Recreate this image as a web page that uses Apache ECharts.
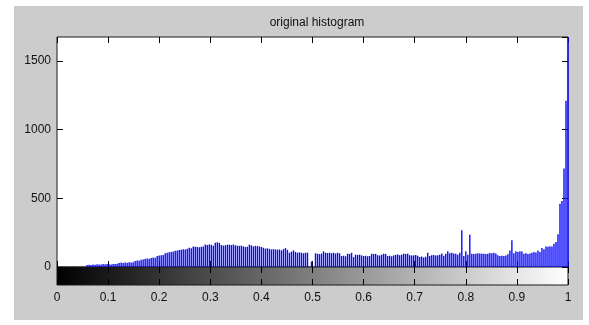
<!DOCTYPE html>
<html>
<head>
<meta charset="utf-8">
<script src="https://cdn.jsdelivr.net/npm/echarts@6/dist/echarts.min.js"></script>
<style>
  html, body { margin: 0; padding: 0; background: #fff; }
  #chart { width: 589px; height: 325px; }
</style>
</head>
<body>
<div id="chart"></div>
<script>
// imhist-style histogram: 256 gray-level bins, counts
const title = "original histogram";
const counts = [
  0, 0, 0, 0, 0, 0, 0, 0, 0, 0, 0, 0, 0, 0, 0, 14,
  16, 15, 18, 17, 20, 19, 18, 22, 20, 21, 20, 19, 22, 21, 24, 30,
  32, 30, 33, 31, 34, 32, 35, 44, 48, 46, 52, 54, 58, 61, 60, 66,
  70, 68, 80, 84, 86, 88, 100, 104, 108, 110, 112, 118, 121, 124, 126, 130,
  128, 132, 140, 136, 150, 148, 146, 144, 148, 150, 163, 160, 164, 162, 155, 177,
  180, 176, 160, 156, 158, 162, 163, 160, 164, 158, 155, 154, 156, 150, 146, 148,
  163, 158, 150, 154, 152, 150, 146, 140, 134, 136, 132, 128, 130, 128, 126, 128,
  121, 130, 138, 125, 104, 112, 121, 110, 104, 106, 104, 100, 104, 104, 0, 40,
  0, 100, 97, 95, 98, 114, 104, 102, 104, 100, 104, 98, 104, 100, 80, 82,
  78, 97, 95, 104, 73, 90, 88, 90, 85, 80, 82, 78, 80, 97, 95, 96,
  86, 84, 90, 97, 95, 80, 82, 78, 85, 88, 92, 86, 90, 97, 95, 97,
  86, 84, 85, 88, 82, 73, 76, 70, 74, 104, 80, 85, 88, 84, 86, 90,
  98, 82, 97, 114, 100, 104, 98, 97, 90, 104, 267, 80, 114, 90, 235, 97,
  95, 97, 100, 98, 96, 97, 95, 97, 102, 100, 104, 98, 86, 80, 82, 80,
  84, 92, 121, 194, 100, 114, 110, 115, 112, 97, 100, 95, 98, 104, 109, 105,
  121, 110, 138, 130, 150, 148, 152, 150, 170, 182, 238, 461, 481, 717, 1210, 1675
];
const yMax = 1675;
const yTicks = [0, 500, 1000, 1500];
const xTicks = [0, 0.1, 0.2, 0.3, 0.4, 0.5, 0.6, 0.7, 0.8, 0.9, 1];

// bin centres sit at k/255 on the 0..1 intensity axis
const barData = counts.map((c, k) => [k / (counts.length - 1), c]);

const chart = echarts.init(document.getElementById("chart"), null, { renderer: "canvas" });
const axisColor = "#1a1a1a";
const font = "Liberation Sans, Arial, sans-serif";
// axes start a hair above 0 so the top/right axes don't snap "onZero" to the wrong side
const EPS = 1e-9;
const noLine = () => ({ show: false });
const tick = len => ({ show: true, inside: true, length: len, lineStyle: { color: "#000", width: 1 } });

chart.setOption({
  backgroundColor: "#ffffff",
  animation: false,
  title: {
    text: title, left: 312, top: 12, textAlign: "center",
    textStyle: { fontFamily: font, fontSize: 12, fontWeight: "normal", color: "#111" }
  },
  graphic: [{
    type: "rect", z: -10, silent: true,
    shape: { x: 14, y: 6, width: 569, height: 314 },
    style: { fill: "#cccccc" }
  }],
  grid: [
    { left: 57, top: 37, width: 511, height: 230, show: true, backgroundColor: "#ffffff",
      borderColor: axisColor, borderWidth: 1 },
    { left: 57, top: 267, width: 511, height: 18, show: true,
      backgroundColor: new echarts.graphic.LinearGradient(0, 0, 1, 0, [
        { offset: 0, color: "#000000" }, { offset: 1, color: "#ffffff" }
      ]),
      borderColor: axisColor, borderWidth: 1 }
  ],
  xAxis: [
    { gridIndex: 0, type: "value", min: EPS, max: 1, interval: 0.1, position: "bottom",
      axisLine: noLine(), splitLine: { show: false }, axisLabel: { show: false }, axisTick: tick(6) },
    { gridIndex: 0, type: "value", min: EPS, max: 1, interval: 0.1, position: "top",
      axisLine: noLine(), splitLine: { show: false }, axisLabel: { show: false }, axisTick: tick(6) },
    { gridIndex: 1, type: "value", min: EPS, max: 1, interval: 0.1, position: "bottom",
      axisLine: noLine(), splitLine: { show: false }, axisTick: tick(6),
      axisLabel: { show: true, margin: 7, color: "#111", fontFamily: font, fontSize: 12,
        formatter: v => {
          const r = Math.round(v * 10) / 10;
          return xTicks.includes(r) ? String(r) : "";
        } } },
    { gridIndex: 1, type: "value", min: EPS, max: 1, interval: 0.1, position: "top",
      axisLine: noLine(), splitLine: { show: false }, axisLabel: { show: false }, axisTick: tick(6) }
  ],
  yAxis: [
    { gridIndex: 0, type: "value", min: EPS, max: yMax, interval: 500, position: "left",
      axisLine: noLine(), splitLine: { show: false }, axisTick: tick(6),
      axisLabel: { show: true, margin: 6, color: "#111", fontFamily: font, fontSize: 12,
        showMaxLabel: false,
        formatter: v => yTicks.includes(Math.round(v)) ? String(Math.round(v)) : "" } },
    { gridIndex: 0, type: "value", min: EPS, max: yMax, interval: 500, position: "right",
      axisLine: noLine(), splitLine: { show: false }, axisLabel: { show: false }, axisTick: tick(6) },
    { gridIndex: 1, type: "value", min: 0.5, max: 1, show: false }
  ],
  series: [{
    type: "bar",
    xAxisIndex: 0, yAxisIndex: 0,
    data: barData,
    barWidth: 1.4,
    itemStyle: { color: "#0a0aff" },
    silent: true
  }]
});
</script>
</body>
</html>
